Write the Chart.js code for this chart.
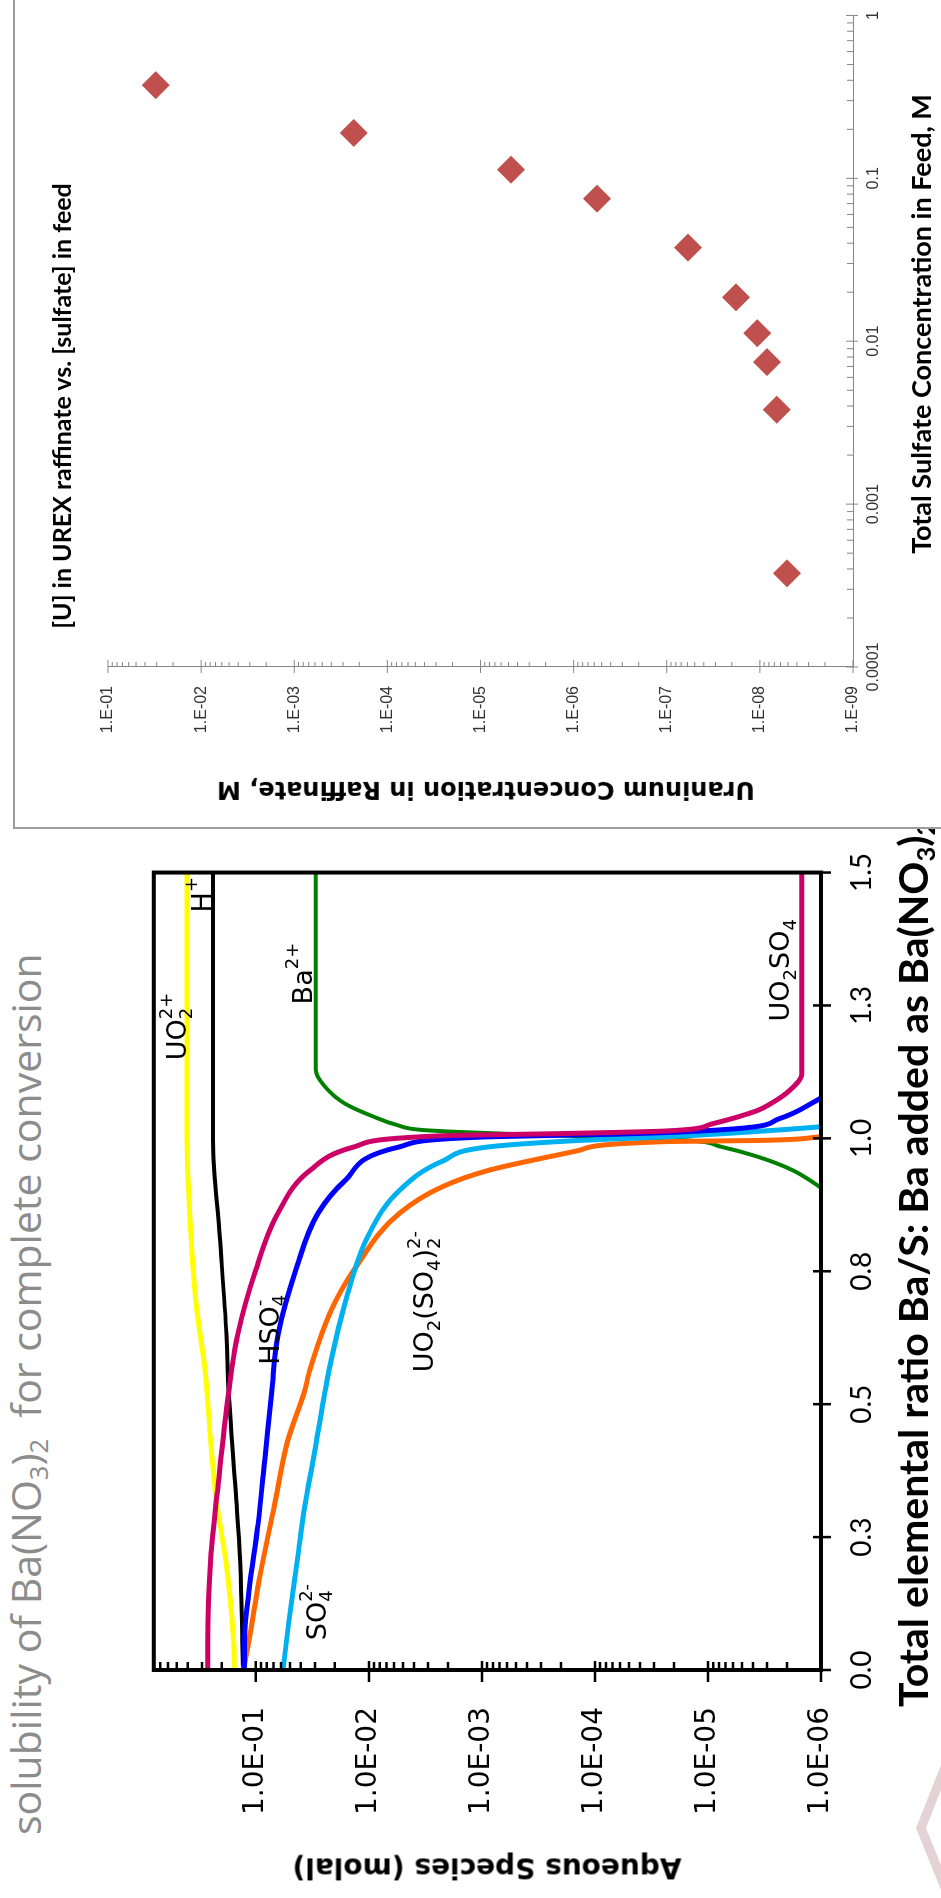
<!DOCTYPE html>
<html>
<head>
<meta charset="utf-8">
<script src="https://cdn.jsdelivr.net/npm/chart.js@4.4.1/dist/chart.umd.min.js"></script>
<style>
  html, body { margin: 0; padding: 0; background: #fff; }
  body { width: 941px; height: 1898px; overflow: hidden; position: relative; }
  /* the slide is laid out upright (1898 x 941) and turned a quarter counter-clockwise */
  #slide { position: absolute; left: 0; top: 0; width: 1898px; height: 941px; overflow: hidden;
           background: #fff; transform-origin: 0 0; transform: translate(0, 1898px) rotate(-90deg); }
  .abs { position: absolute; white-space: nowrap; }
  sub { font-size: 0.62em; vertical-align: -0.28em; line-height: 0; }
  #headline { left: 63px; top: 5px; font: 41px 'Open Sans', sans-serif; line-height: 1; color: #8c8c8c; }
  #specY { left: 30px; top: 487px; transform: translate(-50%, -50%) rotate(-90deg);
           font: bold 28px 'DejaVu Sans', sans-serif; color: #000; }
  #specX { left: 191px; top: 892px; font: bold 41px 'Lato', sans-serif; line-height: 1; color: #000; }
  #box { left: 1069px; top: 13px; width: 900px; height: 1000px; background: #fff; border-left: 2px solid #9d9d9d; border-top: 2px solid #9d9d9d; }
  #urexTitle { left: 1492px; top: 61px; transform: translate(-50%, -50%); font: bold 25px 'Lato', sans-serif; color: #000; }
  #urexY { left: 1108px; top: 486px; transform: translate(-50%, -50%) rotate(-90deg); font: bold 24px 'DejaVu Sans', sans-serif; color: #000; }
  #urexX { left: 1574px; top: 920px; transform: translate(-50%, -50%); font: bold 27px 'Lato', sans-serif; color: #000; }
  #logo { left: 8px; top: 916px; width: 125px; height: 25px; background: #e3d2d6;
          clip-path: polygon(62px 0, 125px 25px, 100px 25px, 62px 10px, 25px 25px, 0 25px); }
</style>
</head>
<body>
<div id="slide">
  <div class="abs" id="headline">solubility of Ba(NO<sub>3</sub>)<sub>2</sub>&nbsp; for complete conversion</div>
  <canvas id="speciation" class="abs" width="1069" height="841" style="left:0;top:100px"></canvas>
  <div class="abs" id="specY">Aqueous Species (molal)</div>
  <div class="abs" id="specX">Total elemental ratio Ba/S: Ba added as Ba(NO<sub>3</sub>)<sub>2</sub></div>
  <div class="abs" id="logo"></div>
  <div class="abs" id="box"></div>
  <canvas id="urex" class="abs" width="829" height="928" style="left:1069px;top:13px"></canvas>
  <div class="abs" id="urexTitle">[U] in UREX raffinate vs. [sulfate] in feed</div>
  <div class="abs" id="urexY">Uraninum Concentration in Raffinate, M</div>
  <div class="abs" id="urexX">Total Sulfate Concentration in Feed, M</div>
</div>

<script>
// ---- speciation vs Ba/S ratio (molal) ----
const uo2so4X = [0, 0.056, 0.211, 0.336, 0.523, 0.630, 0.753, 0.859, 0.940, 0.984, 1.005, 1.009, 1.014, 1.027, 1.052, 1.065, 1.09, 1.121, 1.5];
const uo2so4Y = [0.267, 0.267, 0.251, 0.219, 0.174, 0.145, 0.100, 0.0638, 0.0331, 0.0135, 2.19e-3, 2.0e-4, 2.29e-5, 9.3e-6, 3.7e-6, 2.8e-6, 1.9e-6, 1.48e-6, 1.48e-6];

const hso4X = [0, 0.056, 0.149, 0.275, 0.398, 0.523, 0.630, 0.753, 0.859, 0.921, 0.984, 1.003, 1.008, 1.018, 1.037, 1.07, 1.09];
const hso4Y = [0.126, 0.126, 0.115, 0.0955, 0.0832, 0.0725, 0.0638, 0.0442, 0.0282, 0.0162, 5.37e-3, 8.7e-4, 6.3e-5, 5.75e-6, 2.34e-6, 1.12e-6, 7.9e-7];

const uo2so42X = [0, 0.056, 0.181, 0.305, 0.430, 0.523, 0.566, 0.678, 0.753, 0.859, 0.910, 0.940, 0.977, 0.994, 0.996, 1.003, 1.006];
const uo2so42Y = [0.129, 0.115, 0.0912, 0.0692, 0.0525, 0.0372, 0.0331, 0.0214, 0.0135, 5.37e-3, 2.19e-3, 8.7e-4, 1.41e-4, 2.29e-5, 3.7e-6, 1.0e-6, 6e-7];

const so4X = [0, 0.088, 0.211, 0.305, 0.398, 0.523, 0.566, 0.691, 0.816, 0.902, 0.958, 0.984, 0.996, 1.003, 1.013, 1.022, 1.03];
const so4Y = [0.0575, 0.0513, 0.0427, 0.0372, 0.0309, 0.0245, 0.0224, 0.0162, 0.0102, 5.37e-3, 2.19e-3, 8.7e-4, 1.41e-4, 2.29e-5, 3.7e-6, 1.0e-6, 5e-7];

const baX = [0.90, 0.94, 0.966, 0.985, 0.996, 1.0, 1.004, 1.008, 1.012, 1.016, 1.025, 1.04, 1.065, 1.10, 1.13, 1.5];
const baY = [8.9e-7, 1.78e-6, 3.7e-6, 7.9e-6, 1.45e-5, 3.98e-5, 1.26e-4, 5.0e-4, 1.58e-3, 3.47e-3, 5.62e-3, 8.9e-3, 0.0162, 0.0251, 0.0295, 0.0295];

const hX = [0, 0.056, 0.211, 0.336, 0.523, 0.630, 0.816, 0.996, 1.5];
const hY = [0.130, 0.132, 0.138, 0.151, 0.174, 0.182, 0.209, 0.240, 0.240];

const uo2X = [0, 0.06, 0.211, 0.305, 0.43, 0.566, 0.691, 0.878, 1.0, 1.5];
const uo2Y = [0.155, 0.158, 0.186, 0.219, 0.251, 0.282, 0.339, 0.389, 0.407, 0.407];

const specXTicks = [0, 0.25, 0.5, 0.75, 1, 1.25, 1.5];
const specXLabels = ['0.0', '0.3', '0.5', '0.8', '1.0', '1.3', '1.5'];
const specYTicks = [1e-6, 1e-5, 1e-4, 1e-3, 1e-2, 1e-1];
const specYLabels = ['1.0E-06', '1.0E-05', '1.0E-04', '1.0E-03', '1.0E-02', '1.0E-01'];

// species names: _ subscript, ^ superscript
const speciesText = ['UO_2^{2+}', 'H^+', 'Ba^{2+}', 'UO_2SO_4', 'HSO_4^-', 'UO_2(SO_4)_2^{2-}', 'SO_4^{2-}'];
const speciesAtX = [1.147, 1.425, 1.252, 1.22, 0.574, 0.560, 0.056];
const speciesAtY = [0.48, 0.29, 0.0368, 2.2e-6, 0.072, 3.1e-3, 0.0277];

// ---- [U] in raffinate vs sulfate in feed (M) ----
const sulfateFeed = [0.373, 0.19, 0.113, 0.075, 0.0376, 0.0186, 0.0112, 0.00745, 0.0038, 0.000376];
const uraniumRaff = [0.0307, 2.3e-4, 4.7e-6, 5.6e-7, 5.9e-8, 1.8e-8, 1.07e-8, 8.4e-9, 6.6e-9, 5.1e-9];

const feedTicks = [1e-4, 1e-3, 1e-2, 1e-1, 1];
const feedLabels = ['0.0001', '0.001', '0.01', '0.1', '1'];
const raffTicks = [1e-9, 1e-8, 1e-7, 1e-6, 1e-5, 1e-4, 1e-3, 1e-2, 1e-1];
const raffLabels = ['1.E-09', '1.E-08', '1.E-07', '1.E-06', '1.E-05', '1.E-04', '1.E-03', '1.E-02', '1.E-01'];

Chart.defaults.font.family = "'DejaVu Sans', sans-serif";
Chart.defaults.color = '#000';

const pts = (xs, ys) => xs.map((x, i) => ({ x, y: ys[i] }));

// 1..9 x 10^n positions between lo and hi, for log tick marks
function logSteps(lo, hi) {
  const out = [];
  for (let e = Math.floor(Math.log10(lo)); e <= Math.ceil(Math.log10(hi)); e++) {
    for (let m = 1; m <= 9; m++) {
      const v = +(m * Math.pow(10, e)).toPrecision(6);
      if (v >= lo * 0.999 && v <= hi * 1.001) out.push(v);
    }
  }
  return out;
}

function tickMarks(specs) {
  return {
    id: 'tickMarks',
    afterDatasetsDraw(chart) {
      const { ctx, chartArea: a } = chart;
      specs.forEach(s => {
        const scale = chart.scales[s.axis];
        ctx.save();
        ctx.strokeStyle = s.color;
        ctx.lineWidth = s.width;
        ctx.beginPath();
        s.values.forEach(v => {
          const major = s.major.includes(v);
          const inn = major ? s.majorIn : s.minorIn;
          const out = major ? s.majorOut : s.minorOut;
          const p = scale.getPixelForValue(v);
          if (scale.isHorizontal()) { ctx.moveTo(p, a.bottom - inn); ctx.lineTo(p, a.bottom + out); }
          else { ctx.moveTo(a.left - out, p); ctx.lineTo(a.left + inn, p); }
        });
        ctx.stroke();
        ctx.restore();
      });
    }
  };
}

const frame = {
  id: 'frame',
  afterDatasetsDraw(chart) {
    const { ctx, chartArea: a } = chart;
    ctx.save();
    ctx.strokeStyle = '#000';
    ctx.lineWidth = 4;
    ctx.strokeRect(a.left, a.top, a.right - a.left, a.bottom - a.top);
    ctx.restore();
  }
};

function drawRich(ctx, str, x, y, size) {
  const small = Math.round(size * 0.66);
  const parts = str.match(/[_^](\{[^}]*\}|.)|[^_^]+/g);
  let cx = x, lastSub = null;
  parts.forEach(p => {
    if (p[0] === '_' || p[0] === '^') {
      const txt = p[1] === '{' ? p.slice(2, -1) : p.slice(1);
      ctx.font = small + "px 'DejaVu Sans'";
      const w = ctx.measureText(txt).width;
      if (p[0] === '_') {
        ctx.fillText(txt, cx, y + size * 0.32);
        lastSub = { x: cx, w };
        cx += w;
      } else {
        const sx = lastSub ? lastSub.x : cx;
        ctx.fillText(txt, sx, y - size * 0.42);
        cx = Math.max(cx, sx + w);
        lastSub = null;
      }
    } else {
      ctx.font = size + "px 'DejaVu Sans'";
      ctx.fillText(p, cx, y);
      cx += ctx.measureText(p).width;
      lastSub = null;
    }
  });
}

const speciesLabels = {
  id: 'speciesLabels',
  afterDatasetsDraw(chart) {
    const { ctx, scales: { x, y } } = chart;
    ctx.save();
    ctx.fillStyle = '#000';
    ctx.textAlign = 'left';
    ctx.textBaseline = 'middle';
    speciesText.forEach((t, i) => drawRich(ctx, t, x.getPixelForValue(speciesAtX[i]), y.getPixelForValue(speciesAtY[i]), 27));
    ctx.restore();
  }
};

const line = (xs, ys, color, w) => ({ data: pts(xs, ys), borderColor: color, borderWidth: w || 5, pointRadius: 0, fill: false });

new Chart(document.getElementById('speciation'), {
  type: 'line',
  data: {
    datasets: [
      line(uo2so4X, uo2so4Y, '#CC0066'),
      line(hso4X, hso4Y, '#0000FF'),
      line(so4X, so4Y, '#00B0F0'),
      line(uo2so42X, uo2so42Y, '#FF6600'),
      line(baX, baY, '#008000', 4),
      line(hX, hY, '#000000', 4),
      line(uo2X, uo2Y, '#FFFF00')
    ]
  },
  options: {
    responsive: false,
    animation: false,
    layout: { padding: { left: 0, top: 53, right: 38, bottom: 0 } },
    plugins: { legend: { display: false }, tooltip: { enabled: false } },
    elements: { line: { cubicInterpolationMode: 'monotone' } },
    scales: {
      x: {
        type: 'linear', min: 0, max: 1.5,
        grid: { display: false, drawTicks: false }, border: { display: false },
        afterBuildTicks: s => { s.ticks = specXTicks.map(v => ({ value: v })); },
        afterFit: s => { s.height = 120; },
        ticks: { padding: 24, autoSkip: false, maxRotation: 0, minRotation: 0,
                 font: { family: 'Lato', size: 28 }, callback: (v, i) => specXLabels[i] }
      },
      y: {
        type: 'logarithmic', min: 1e-6, max: 0.8,
        grid: { display: false, drawTicks: false }, border: { display: false },
        afterBuildTicks: s => { s.ticks = specYTicks.map(v => ({ value: v })); },
        afterFit: s => { s.width = 228; },
        ticks: { padding: 37, autoSkip: false, font: { size: 28 }, callback: (v, i) => specYLabels[i] }
      }
    }
  },
  plugins: [frame, tickMarks([
    { axis: 'y', values: logSteps(1e-6, 0.8), major: specYTicks, majorIn: 9, majorOut: 12, minorIn: 8, minorOut: 0, color: '#000', width: 2.5 },
    { axis: 'x', values: specXTicks, major: specXTicks, majorIn: 8, majorOut: 10, minorIn: 0, minorOut: 0, color: '#000', width: 2.5 }
  ]), speciesLabels]
});

new Chart(document.getElementById('urex'), {
  type: 'scatter',
  data: {
    datasets: [{
      data: pts(sulfateFeed, uraniumRaff),
      pointStyle: 'rectRot', pointRadius: 14,
      backgroundColor: '#C0504D', borderColor: '#C0504D', borderWidth: 0
    }]
  },
  options: {
    responsive: false,
    animation: false,
    layout: { padding: { left: 0, top: 95, right: 13, bottom: 0 } },
    plugins: { legend: { display: false }, tooltip: { enabled: false } },
    scales: {
      x: {
        type: 'logarithmic', min: 1e-4, max: 1,
        grid: { display: false, drawTicks: false }, border: { display: true, color: '#868686', width: 1 },
        afterBuildTicks: s => { s.ticks = feedTicks.map(v => ({ value: v })); },
        afterFit: s => { s.height = 88; },
        ticks: { padding: 11, autoSkip: false, maxRotation: 0, color: '#333',
                 font: { family: "'Liberation Sans'", size: 16 }, callback: (v, i) => feedLabels[i] }
      },
      y: {
        type: 'logarithmic', min: 1e-9, max: 1e-1,
        grid: { display: false, drawTicks: false }, border: { display: true, color: '#868686', width: 1 },
        afterBuildTicks: s => { s.ticks = raffTicks.map(v => ({ value: v })); },
        afterFit: s => { s.width = 162; },
        ticks: { padding: 19, autoSkip: false, color: '#333',
                 font: { family: "'Liberation Sans'", size: 16 }, callback: (v, i) => raffLabels[i] }
      }
    }
  },
  plugins: [tickMarks([
    { axis: 'x', values: logSteps(1e-4, 1), major: feedTicks, majorIn: 7, majorOut: 5, minorIn: 6, minorOut: 0, color: '#868686', width: 1 },
    { axis: 'y', values: logSteps(1e-9, 1e-1), major: raffTicks, majorIn: 7, majorOut: 6, minorIn: 5, minorOut: 0, color: '#868686', width: 1 }
  ])]
});
</script>
</body>
</html>
